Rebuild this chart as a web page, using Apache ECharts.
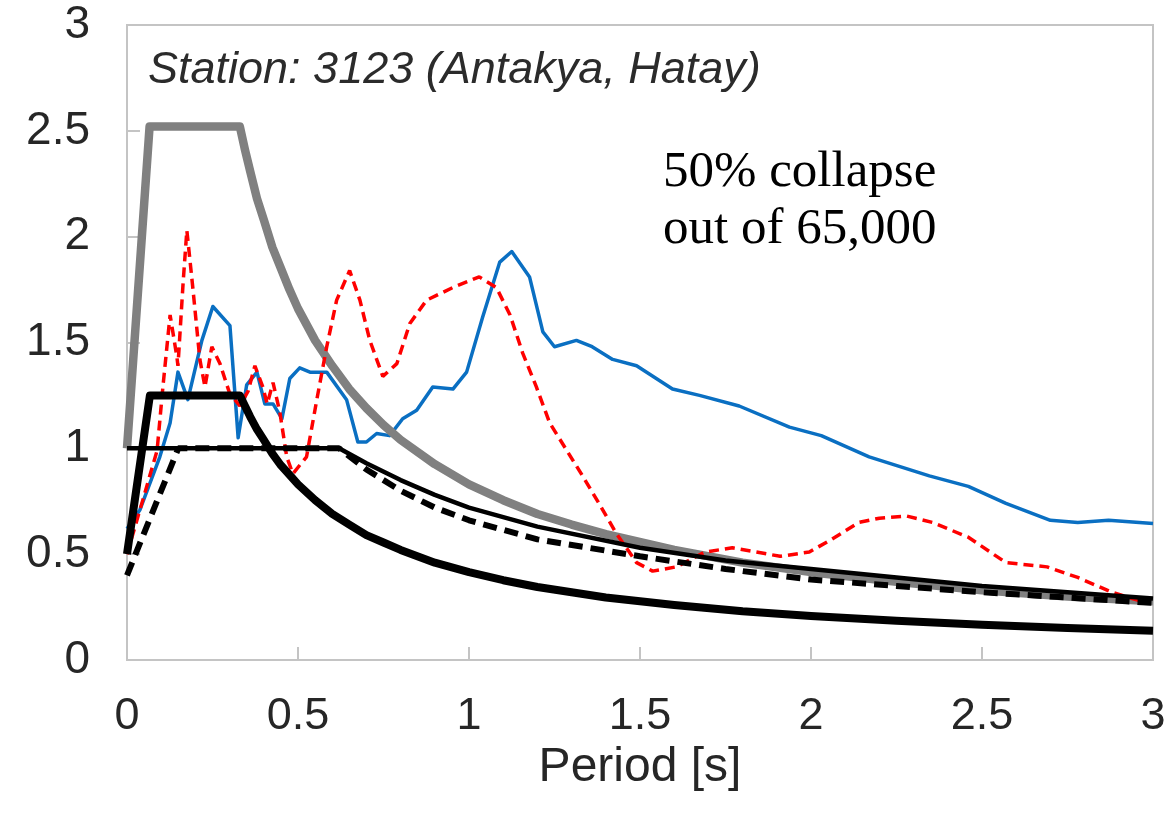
<!DOCTYPE html>
<html>
<head>
<meta charset="utf-8">
<script src="https://cdn.jsdelivr.net/npm/echarts@6/dist/echarts.min.js"></script>
<style>
html,body{margin:0;padding:0;background:#fff;}
#chart{width:1176px;height:816px;}
</style>
</head>
<body>
<div id="chart"></div>
<script>
// ---- data ----
const xTicks = [0, 0.5, 1, 1.5, 2, 2.5, 3];
const yTicks = [0, 0.5, 1, 1.5, 2, 2.5, 3];

// recorded spectrum (blue, solid)
const blueT = [0, 0.038, 0.096, 0.126, 0.149, 0.178, 0.219, 0.251, 0.301, 0.325, 0.35, 0.38, 0.403, 0.427, 0.453, 0.476, 0.505, 0.535, 0.584, 0.642, 0.675, 0.70, 0.73, 0.768, 0.806, 0.847, 0.894, 0.953, 0.993, 1.04, 1.09, 1.125, 1.177, 1.216, 1.25, 1.314, 1.36, 1.42, 1.49, 1.595, 1.674, 1.79, 1.937, 2.03, 2.17, 2.346, 2.46, 2.57, 2.70, 2.78, 2.87, 3.0];
const blueV = [0.62, 0.71, 0.96, 1.12, 1.36, 1.23, 1.51, 1.67, 1.58, 1.05, 1.30, 1.36, 1.21, 1.21, 1.14, 1.33, 1.38, 1.36, 1.36, 1.23, 1.03, 1.03, 1.07, 1.06, 1.14, 1.18, 1.29, 1.28, 1.36, 1.62, 1.88, 1.93, 1.81, 1.55, 1.48, 1.51, 1.48, 1.42, 1.39, 1.28, 1.25, 1.20, 1.10, 1.06, 0.96, 0.87, 0.82, 0.74, 0.66, 0.65, 0.66, 0.645];

// recorded spectrum (red, dashed)
const redT = [0, 0.047, 0.088, 0.105, 0.126, 0.146, 0.149, 0.164, 0.175, 0.193, 0.213, 0.228, 0.248, 0.272, 0.30, 0.33, 0.354, 0.374, 0.397, 0.41, 0.427, 0.447, 0.467, 0.485, 0.525, 0.555, 0.584, 0.613, 0.651, 0.681, 0.71, 0.748, 0.789, 0.827, 0.876, 0.953, 1.03, 1.08, 1.12, 1.157, 1.197, 1.236, 1.332, 1.38, 1.43, 1.49, 1.537, 1.606, 1.69, 1.77, 1.84, 1.91, 1.995, 2.06, 2.14, 2.2, 2.28, 2.355, 2.46, 2.57, 2.69, 2.78, 2.88, 2.96];
const redV = [0.50, 0.76, 0.99, 1.29, 1.63, 1.43, 1.39, 1.78, 2.03, 1.75, 1.42, 1.29, 1.48, 1.40, 1.26, 1.20, 1.27, 1.39, 1.29, 1.21, 1.31, 1.17, 0.96, 0.88, 0.96, 1.23, 1.48, 1.70, 1.84, 1.70, 1.51, 1.34, 1.40, 1.59, 1.70, 1.76, 1.81, 1.76, 1.63, 1.45, 1.29, 1.12, 0.87, 0.74, 0.60, 0.46, 0.42, 0.44, 0.51, 0.53, 0.51, 0.49, 0.51, 0.57, 0.65, 0.67, 0.68, 0.65, 0.58, 0.46, 0.44, 0.39, 0.32, 0.28];

// design spectrum (grey, thick)
const greyT = [0, 0.066, 0.33, 0.345, 0.36, 0.38, 0.4, 0.425, 0.45, 0.475, 0.5, 0.55, 0.6, 0.65, 0.7, 0.75, 0.8, 0.9, 1.0, 1.1, 1.2, 1.3, 1.4, 1.6, 1.8, 2.0, 2.25, 2.5, 2.75, 3.0];
const greyV = [1.0, 2.52, 2.52, 2.41, 2.31, 2.18, 2.08, 1.95, 1.85, 1.75, 1.66, 1.51, 1.39, 1.28, 1.19, 1.11, 1.04, 0.925, 0.83, 0.755, 0.69, 0.64, 0.595, 0.52, 0.46, 0.415, 0.37, 0.33, 0.30, 0.277];

// black thick solid
const thickT = [0, 0.067, 0.33, 0.345, 0.36, 0.38, 0.4, 0.425, 0.45, 0.475, 0.5, 0.55, 0.6, 0.65, 0.7, 0.75, 0.8, 0.9, 1.0, 1.1, 1.2, 1.3, 1.4, 1.6, 1.8, 2.0, 2.25, 2.5, 2.75, 3.0];
const thickV = [0.5, 1.25, 1.25, 1.2, 1.15, 1.09, 1.04, 0.975, 0.92, 0.875, 0.83, 0.755, 0.69, 0.64, 0.59, 0.555, 0.52, 0.46, 0.415, 0.377, 0.345, 0.32, 0.295, 0.26, 0.23, 0.208, 0.185, 0.166, 0.151, 0.138];

// black thin solid
const thinT = [0, 0.62, 0.7, 0.8, 0.9, 1.0, 1.2, 1.5, 1.75, 2.0, 2.25, 2.5, 2.75, 3.0];
const thinV = [1.0, 1.0, 0.93, 0.85, 0.78, 0.72, 0.63, 0.53, 0.47, 0.43, 0.39, 0.35, 0.32, 0.29];

// black dashed
const dashT = [0, 0.15, 0.62, 0.7, 0.8, 0.9, 1.0, 1.2, 1.5, 1.75, 2.0, 2.25, 2.5, 2.75, 3.0];
const dashV = [0.4, 1.0, 1.0, 0.9, 0.8, 0.72, 0.66, 0.57, 0.49, 0.43, 0.38, 0.35, 0.32, 0.295, 0.27];

const stationLabel = 'Station: 3123 (Antakya, Hatay)';
const noteLines = ['50% collapse', 'out of 65,000'];
const xName = 'Period [s]';

function pairs(t, v) { return t.map((x, i) => [x, v[i]]); }

const chart = echarts.init(document.getElementById('chart'), null, {renderer: 'canvas'});
const axisGrey = '#c4c4c4';
const labelColor = '#262626';

const option = {
  animation: false,
  backgroundColor: '#ffffff',
  grid: {
    left: 127, right: 23, top: 25, bottom: 156,
    show: true, borderColor: axisGrey, borderWidth: 2, backgroundColor: 'transparent'
  },
  xAxis: {
    type: 'value', min: xTicks[0], max: xTicks[xTicks.length - 1], interval: 0.5,
    name: xName, nameLocation: 'middle', nameGap: 81,
    nameTextStyle: {fontFamily: 'Liberation Sans, Arial', fontSize: 48, color: labelColor},
    axisLine: {show: true, lineStyle: {color: axisGrey, width: 2}},
    axisTick: {show: true, inside: true, length: 13, lineStyle: {color: axisGrey, width: 2}},
    axisLabel: {fontFamily: 'Liberation Sans, Arial', fontSize: 45, color: labelColor, margin: 34,
      formatter: v => String(v)},
    splitLine: {show: false}
  },
  yAxis: {
    type: 'value', min: yTicks[0], max: yTicks[yTicks.length - 1], interval: 0.5,
    axisLine: {show: true, lineStyle: {color: axisGrey, width: 2}},
    axisTick: {show: true, inside: true, length: 13, lineStyle: {color: axisGrey, width: 2}},
    axisLabel: {fontFamily: 'Liberation Sans, Arial', fontSize: 46, color: labelColor, margin: 37,
      formatter: v => String(v)},
    splitLine: {show: false}
  },
  series: [
    {name: 'blue', type: 'line', data: pairs(blueT, blueV), showSymbol: false, symbol: 'none',
      lineStyle: {color: '#0a6fc2', width: 3.5, join: 'round'}, z: 2},
    {name: 'grey', type: 'line', data: pairs(greyT, greyV), showSymbol: false, symbol: 'none',
      lineStyle: {color: '#808080', width: 8.5, join: 'round'}, z: 3},
    {name: 'red', type: 'line', data: pairs(redT, redV), showSymbol: false, symbol: 'none',
      lineStyle: {color: '#ff0000', width: 3.5, type: [10, 6]}, z: 4},
    {name: 'thin', type: 'line', data: pairs(thinT, thinV), showSymbol: false, symbol: 'none',
      lineStyle: {color: '#000000', width: 4.5, join: 'round'}, z: 5},
    {name: 'dash', type: 'line', data: pairs(dashT, dashV), showSymbol: false, symbol: 'none',
      lineStyle: {color: '#000000', width: 6, type: [14, 8]}, z: 5},
    {name: 'thick', type: 'line', data: pairs(thickT, thickV), showSymbol: false, symbol: 'none',
      lineStyle: {color: '#000000', width: 8, join: 'round'}, z: 6}
  ],
  graphic: [
    {type: 'text', left: 148, top: 48, z: 10,
      style: {text: stationLabel, font: 'italic 45px "Liberation Sans", Arial', fill: '#2b2b2b'}},
    {type: 'text', left: 663, top: 144, z: 10,
      style: {text: noteLines.join('\n'), font: '51px "Liberation Serif", serif', fill: '#000000', lineHeight: 57}}
  ]
};
chart.setOption(option);
</script>
</body>
</html>
